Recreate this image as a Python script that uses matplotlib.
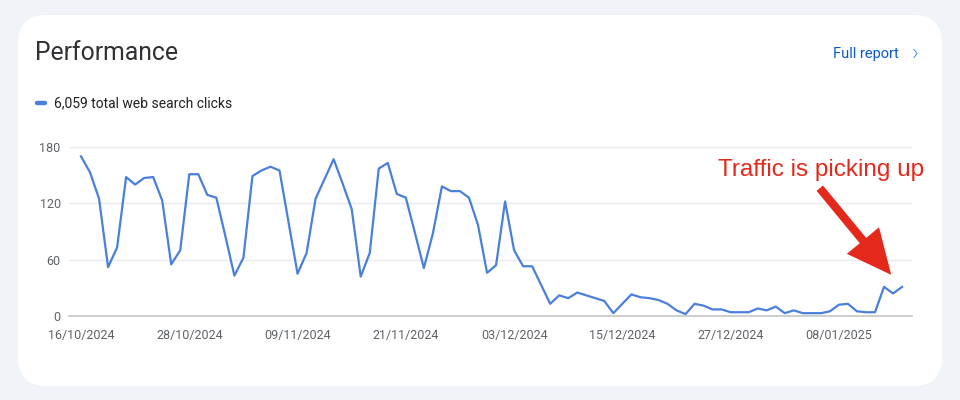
import numpy as np
import pandas as pd
import matplotlib
matplotlib.use('Agg')
import matplotlib.pyplot as plt
import matplotlib.dates as mdates
from matplotlib.patches import FancyBboxPatch, FancyArrowPatch
from matplotlib.lines import Line2D

# daily clicks
clicks = [170, 153, 125, 52, 73, 148, 140, 147, 148, 123,
          55, 70, 151, 151, 129, 126, 85, 43, 62, 149,
          155, 159, 155, 100, 45, 67, 125, 146, 167, 141,
          114, 42, 67, 157, 163, 130, 126, 89, 51, 88,
          138, 133, 133, 126, 97, 46, 54, 122, 70, 53,
          53, 33, 13, 22, 19, 25, 22, 19, 16, 3,
          13, 23, 20, 19, 17, 13, 6, 2, 13, 11,
          7, 7, 4, 4, 4, 8, 6, 10, 3, 6,
          3, 3, 3, 5, 12, 13, 5, 4, 4, 31,
          24, 31]
start_date = '2024-10-16'
tick_dates = ['2024-10-16', '2024-10-28', '2024-11-09', '2024-11-21',
              '2024-12-03', '2024-12-15', '2024-12-27', '2025-01-08']
y_ticks = [0, 60, 120, 180]
total_label = '6,059 total web search clicks'
note = 'Traffic is picking up'

dates = pd.date_range(start_date, periods=len(clicks), freq='D')
blue = '#4a7fdb'
red = '#e4291c'
font = ['Roboto', 'DejaVu Sans']

fig = plt.figure(figsize=(9.6, 4), dpi=100)
fig.patch.set_facecolor('#f0f4f9')

# white card (behind the axes)
card = FancyBboxPatch((18 / 960, 14 / 400), 924 / 960, 371 / 400,
                      boxstyle='round,pad=0,rounding_size=0.03',
                      transform=fig.transFigure, facecolor='white',
                      edgecolor='none', mutation_aspect=2.4, zorder=-5)
fig.add_artist(card)

fig.text(35 / 960, 1 - 53 / 400, 'Performance', fontsize=17.8, color='#303134',
         family=font, va='center', ha='left')
fig.text(899 / 960, 1 - 54 / 400, 'Full report', fontsize=10.5, color='#0b57d0',
         family=font, va='center', ha='right')
fig.text(919 / 960, 1 - 54 / 400, '\u203a', fontsize=17, color='#0b57d0',
         family=font, va='center', ha='right', weight='light')

# legend marker + text
fig.add_artist(Line2D([37 / 960, 45 / 960], [1 - 103 / 400, 1 - 103 / 400],
                      transform=fig.transFigure, color=blue, lw=3.2,
                      solid_capstyle='round'))
fig.text(54 / 960, 1 - 103 / 400, total_label, fontsize=10, color='#202124',
         family=font, va='center', ha='left')

ax = fig.add_axes([69 / 960, 1 - 316 / 400, (912 - 69) / 960, (316 - 147) / 400])
ax.set_facecolor('none')
ax.plot(dates, clicks, color=blue, lw=1.6, solid_joinstyle='round', zorder=3)

ax.set_ylim(0, 180)
ax.set_yticks(y_ticks)
ax.set_xlim(dates[0] - pd.Timedelta(days=1.33), dates[-1] + pd.Timedelta(days=1.1))
ax.set_xticks(pd.to_datetime(tick_dates))
ax.xaxis.set_major_formatter(mdates.DateFormatter('%d/%m/%Y'))

ax.grid(axis='y', color='#e8eaed', lw=1)
ax.set_axisbelow(True)
for s in ['top', 'right', 'left']:
    ax.spines[s].set_visible(False)
ax.spines['bottom'].set_color('#c4c7c5')
ax.spines['bottom'].set_linewidth(1.2)
ax.tick_params(length=0, labelsize=9, labelcolor='#5f6368')
ax.tick_params(axis='y', pad=6)
ax.tick_params(axis='x', pad=9)
ax.set_xticklabels([pd.Timestamp(d).strftime('%d/%m/%Y') for d in tick_dates])
for lab in ax.get_xticklabels() + ax.get_yticklabels():
    lab.set_family(font)

# annotation
fig.text(821 / 960, 1 - 170 / 400, note, fontsize=17.5, color=red,
         family=['Liberation Sans', 'DejaVu Sans'], va='center', ha='center')
arrow = FancyArrowPatch((818, 400 - 186), (893, 400 - 277),
                        transform=None, arrowstyle='simple,head_length=1.6,head_width=1.5,tail_width=0.3',
                        mutation_scale=20, color=red, lw=0)
fig.add_artist(arrow)

fig.savefig('out.png', dpi=100, facecolor=fig.get_facecolor())
